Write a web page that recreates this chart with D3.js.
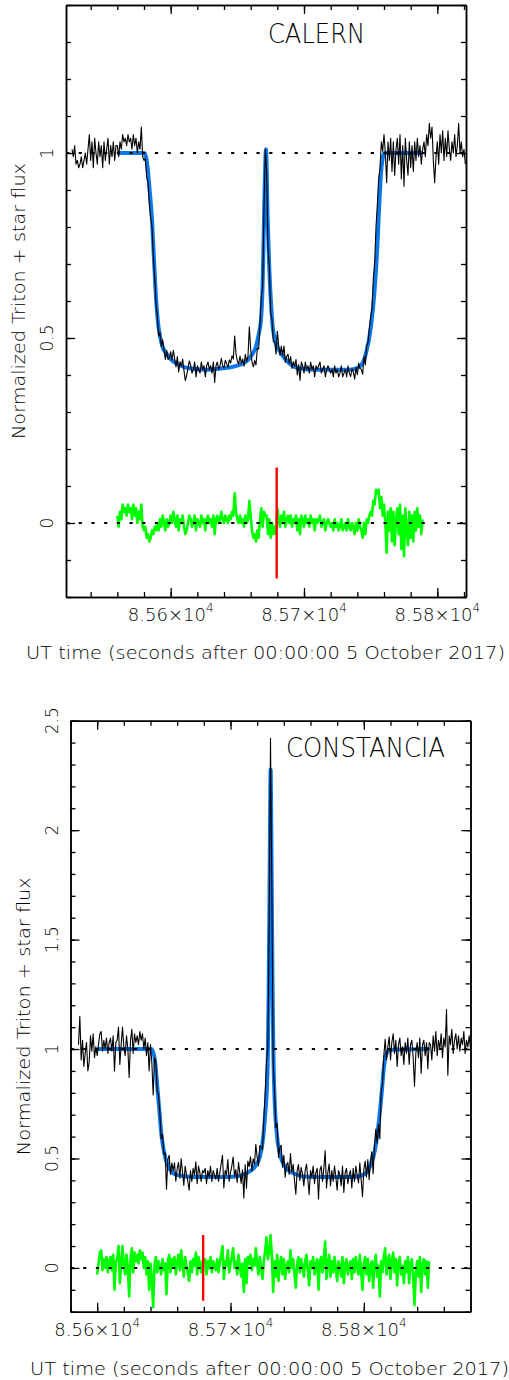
<!DOCTYPE html>
<html><head><meta charset="utf-8">
<script src="https://cdn.jsdelivr.net/npm/d3@7/dist/d3.min.js"></script>
<style>
body{margin:0;background:#fff}
svg{display:block}
text{font-family:"DejaVu Sans",sans-serif;font-weight:200;fill:#000}
</style>
</head><body><div id="chart"></div>
<script>
// ---------------- DATA ----------------
const xLabelValues = [85600, 85700, 85800];
const xLabelMantissa = ["8.56", "8.57", "8.58"];
const xLabelExponent = "4";
const xTitle = "UT time (seconds after 00:00:00 5 October 2017)";
const yTitle = "Normalized Triton + star flux";

// CALERN
const calernName = "CALERN";
const calernYLabels = [0, 0.5, 1];
const calernDataStart = 85526, calernDataStep = 1;
const calernFlux = [
1.01,0.99,1.02,0.97,0.98,0.96,0.97,0.99,0.96,0.98,1.00,0.97,1.01,1.05,0.98,1.03,0.96,1.04,1.00,0.97,1.03,0.99,1.02,0.96,1.03,0.98,1.01,1.04,0.97,1.02,0.99,1.03,0.98,1.02,
1.02,0.99,1.03,1.01,1.05,1.03,1.04,1.02,1.05,1.03,
1.04,1.01,1.05,1.02,1.04,1.00,1.03,1.01,1.07,0.99,
0.98,0.985,0.935,0.92,0.86,0.825,0.80,0.72,0.665,0.59,
0.56,0.505,0.515,0.478,0.495,0.468,0.442,0.467,0.442,0.447,
0.463,0.44,0.467,0.444,0.422,0.45,0.408,0.436,0.424,0.443,
0.411,0.385,0.399,0.418,0.438,0.426,0.405,0.415,0.435,0.395,
0.425,0.415,0.405,0.435,0.415,0.425,0.395,0.425,0.435,0.415,
0.425,0.405,0.435,0.38,0.425,0.435,0.415,0.425,0.445,0.425,
0.419,0.44,0.43,0.421,0.441,0.432,0.452,0.443,
0.505,0.457,0.438,0.43,0.451,0.432,0.443,0.424,0.456,0.437,
0.451,0.53,0.47,0.435,0.422,0.439,0.427,0.472,0.47,0.54,0.61,0.64,
0.85,1.01,0.95,0.74,0.694,0.57,0.55,0.49,0.49,0.456,
0.518,0.48,0.453,0.478,0.453,0.478,0.434,0.45,0.456,0.432,
0.45,0.418,0.436,0.424,0.442,0.40,0.428,0.385,0.435,0.425,
0.405,0.435,0.415,0.425,0.405,0.435,0.415,0.425,0.395,0.425,
0.415,0.425,0.435,0.405,0.415,0.425,0.395,0.415,0.425,0.415,
0.405,0.415,0.395,0.425,0.405,0.415,0.395,0.405,0.425,0.395,
0.405,0.415,0.395,0.425,0.405,0.396,0.417,0.408,0.389,0.42,
0.401,0.432,0.418,0.415,0.402,0.45,0.427,0.478,0.487,0.527,
0.557,0.58,0.66,0.705,0.80,0.86,0.93,0.96,1.03,1.005,
1.05,1.0,0.92,1.03,0.98,1.04,0.95,1.03,0.94,1.01,
1.04,0.97,1.05,0.93,1.02,0.91,1.04,0.98,0.94,1.03,
0.96,1.02,0.95,1.03,0.98,1.04,0.99,1.02,0.97,1.01,
1.03,0.99,1.05,1.02,1.08,1.04,1.07,0.98,0.92,0.99,
1.03,0.97,1.05,1.00,1.06,0.98,1.04,0.99,1.06,1.01,
0.98,1.03,1.00,1.05,0.99,1.02,1.08,1.00,1.03,0.99,
1.01,0.97
];
const calernResidStart = 85560, calernResidStep = 1;
const calernResid = [
0.02,-0.01,0.03,0.01,0.05,0.03,0.04,0.02,0.05,0.03,
0.04,0.01,0.05,0.02,0.04,0.00,0.03,0.01,0.05,-0.01,
-0.02,-0.01,-0.04,-0.03,-0.05,-0.04,-0.02,-0.03,-0.01,-0.02,
0.00,-0.02,0.01,-0.01,0.02,0.00,-0.02,0.01,-0.01,0.00,
0.02,0.00,0.03,0.01,-0.01,0.02,-0.02,0.01,0.00,0.02,
-0.01,-0.03,-0.02,0.00,0.02,0.01,-0.01,0.00,0.02,-0.02,
0.01,0.00,-0.01,0.02,0.00,0.01,-0.02,0.01,0.02,0.00,
0.01,-0.01,0.02,-0.03,0.01,0.02,0.00,0.01,0.03,0.01,
0.00,0.02,0.01,0.00,0.02,0.01,0.03,0.02,
0.08,0.03,0.01,0.00,0.02,0.00,0.01,-0.01,0.02,0.00,
0.01,0.06,0.02,-0.02,-0.04,-0.03,-0.05,-0.02,-0.04,0.01,0.04,-0.01,
0.03,0.02,0.02,-0.03,0.01,-0.04,0.00,-0.03,-0.01,-0.03,
0.04,0.01,-0.01,0.02,0.00,0.03,-0.01,0.01,0.02,0.00,
0.02,-0.01,0.01,0.00,0.02,-0.02,0.01,-0.03,0.02,0.01,
-0.01,0.02,0.00,0.01,-0.01,0.02,0.00,0.01,-0.02,0.01,
0.00,0.01,0.02,-0.01,0.00,0.01,-0.02,0.00,0.01,0.00,
-0.01,0.00,-0.02,0.01,-0.01,0.00,-0.02,-0.01,0.01,-0.02,
-0.01,0.00,-0.02,0.01,-0.01,-0.02,0.00,-0.01,-0.03,0.00,
-0.02,0.01,-0.01,-0.02,-0.04,0.00,-0.03,0.01,0.00,0.02,
0.03,0.02,0.06,0.05,0.09,0.08,0.09,0.04,0.07,0.02,
0.05,0.00,-0.08,0.03,-0.02,0.04,-0.05,0.03,-0.06,0.01,
0.04,-0.03,0.05,-0.07,0.02,-0.09,0.04,-0.02,-0.06,0.03,
-0.04,0.02,-0.05,0.03,-0.02,0.04,-0.01,0.02,-0.03,0.01
];
const calernModelTime = [85560,85580,85581.5,85583,85584,85586,85587.25,85588.5,85590.25,85592.25,85594,85596.5,85600,85604,85609,85614,85626.5,85639,85646.5,85656.5,85661,85664,85666,85667.75,85669,85669.5,85670.5,85671.5,85672.75,85674,85675.25,85676.5,85679,85682.75,85689,85696.5,85709,85734,85741.5,85746.5,85750.25,85752.75,85754.75,85756.5,85757.75,85759,85760.25,85789];
const calernModelFlux = [1.0,1.0,0.99,0.95,0.91,0.82,0.73,0.64,0.55,0.50,0.475,0.46,0.443,0.432,0.423,0.418,0.414,0.418,0.422,0.436,0.455,0.477,0.51,0.549,0.65,0.729,0.909,1.01,0.82,0.684,0.594,0.531,0.486,0.459,0.432,0.418,0.414,0.414,0.422,0.459,0.531,0.621,0.729,0.864,0.945,0.985,1.0,1.0];
const calernRefTime = 85679.5;
const calernRefHalf = 0.15;

// CONSTANCIA
const constanciaName = "CONSTANCIA";
const constanciaYLabels = [0, 0.5, 1, 1.5, 2, 2.5];
const constanciaDataStart = 85586, constanciaDataStep = 1;
const constanciaFlux = [
1.02,1.15,0.95,1.04,0.92,0.98,1.03,0.90,0.94,1.06,0.99,1.07,0.96,1.01,
0.97,1.02,1.07,1.08,0.99,1.04,1.00,1.05,0.98,1.03,
1.05,0.99,1.06,0.90,1.03,1.04,1.10,0.93,1.02,1.10,
1.01,0.97,1.06,1.00,0.87,1.04,1.09,0.98,1.07,1.03,
1.06,1.02,1.08,1.04,1.07,1.00,1.05,0.97,1.03,0.90,
1.02,0.94,0.79,0.96,0.94,0.81,0.79,0.71,0.59,0.61,
0.52,0.525,0.36,0.495,0.515,0.427,0.48,0.444,0.48,0.396,
0.454,0.482,0.41,0.499,0.438,0.377,0.465,0.425,0.395,0.355,
0.445,0.395,0.455,0.425,0.485,0.385,0.465,0.435,0.395,0.445,
0.435,0.455,0.385,0.445,0.415,0.465,0.395,0.445,0.425,0.405,
0.455,0.395,0.435,0.475,0.515,0.365,0.445,0.425,0.495,0.395,
0.435,0.466,0.507,0.418,0.449,0.39,0.482,0.434,0.386,0.448,
0.32,0.472,0.364,0.488,0.463,0.508,0.443,0.498,0.473,0.565,
0.505,0.467,0.559,0.55,0.54,0.68,0.80,0.94,1.01,1.57,
2.42,1.74,0.94,0.81,0.64,0.66,0.505,0.55,0.56,0.46,
0.515,0.415,0.468,0.482,0.427,0.522,0.438,0.473,0.40,0.337,
0.444,0.472,0.40,0.459,0.428,0.375,0.445,0.475,0.405,0.335,
0.445,0.415,0.465,0.385,0.435,0.455,0.315,0.445,0.465,0.395,
0.455,0.535,0.365,0.435,0.475,0.375,0.445,0.395,0.465,0.415,
0.355,0.445,0.425,0.375,0.465,0.345,0.435,0.455,0.385,0.425,
0.445,0.365,0.455,0.395,0.465,0.425,0.388,0.48,0.402,0.325,
0.45,0.488,0.416,0.495,0.403,0.49,0.53,0.43,0.56,0.635,
0.57,0.656,0.59,0.81,0.84,0.97,1.045,0.95,1.01,1.056,
0.95,1.03,1.07,0.98,1.04,0.92,1.02,1.05,0.97,1.01,
0.93,1.03,0.98,1.05,0.93,1.02,1.04,0.96,0.83,0.98,
1.03,0.96,1.05,0.89,1.02,1.04,0.97,1.03,0.91,1.03,
1.02,0.95,1.06,0.99,1.08,0.97,1.04,1.00,1.07,0.96,
1.05,1.01,1.18,0.88,1.06,1.02,1.09,0.98,1.04,1.07,
1.00,1.06,0.99,1.05,1.02,1.08,0.98,1.04,1.01,1.06,
1.00
];
const constanciaResidStart = 85600, constanciaResidStep = 1;
const constanciaResid = [
-0.03,0.02,0.07,0.08,-0.01,0.04,0.00,0.05,-0.02,0.03,
0.05,-0.01,0.06,-0.10,0.03,0.04,0.10,-0.07,0.02,0.10,
0.01,-0.03,0.06,0.00,-0.13,0.04,0.09,-0.02,0.07,0.03,
0.06,0.02,0.08,0.04,0.07,0.00,0.05,-0.03,0.03,-0.10,
0.02,-0.05,-0.18,0.01,0.05,-0.02,0.03,0.01,-0.03,0.04,
-0.01,0.02,-0.12,0.03,0.06,-0.02,0.04,0.01,0.05,-0.03,
0.03,0.06,-0.01,0.08,0.02,-0.04,0.05,0.01,-0.02,-0.06,
0.03,-0.02,0.04,0.01,0.07,-0.03,0.05,0.02,-0.02,0.03,
0.02,0.04,-0.03,0.03,0.00,0.05,-0.02,0.03,0.01,-0.01,
0.04,-0.02,0.02,0.06,0.10,-0.05,0.03,0.01,0.08,-0.02,
0.02,0.05,0.09,0.00,0.03,-0.03,0.06,0.01,-0.04,0.02,
-0.11,0.04,-0.07,0.05,0.02,0.06,-0.01,0.04,0.01,0.09,
0.02,-0.03,0.05,0.00,-0.05,0.03,0.08,0.14,0.04,0.07,
0.15,0.06,-0.11,0.03,-0.04,0.06,-0.06,0.02,0.05,-0.03,
0.04,-0.05,0.01,0.03,-0.02,0.08,0.00,0.04,-0.03,-0.09,
0.02,0.05,-0.02,0.04,0.01,-0.04,0.03,0.06,-0.01,-0.08,
0.03,0.00,0.05,-0.03,0.02,0.04,-0.10,0.03,0.05,-0.02,
0.04,0.12,-0.05,0.02,0.06,-0.04,0.03,-0.02,0.05,0.00,
-0.06,0.03,0.01,-0.04,0.05,-0.07,0.02,0.04,-0.03,0.01,
0.03,-0.05,0.04,-0.02,0.05,0.01,-0.03,0.06,-0.02,-0.10,
0.02,0.05,-0.03,0.04,-0.06,0.01,0.03,-0.09,0.02,0.06,
-0.04,0.01,-0.13,0.03,-0.02,0.05,0.09,-0.03,0.02,0.06,
-0.05,0.03,0.07,-0.02,0.04,-0.08,0.02,0.05,-0.03,0.01,
-0.07,0.03,-0.02,0.05,-0.07,0.02,0.04,-0.04,-0.17,-0.02,
0.03,-0.04,0.05,-0.11,0.02,0.04,-0.03,0.03,-0.09,0.03
];
const constanciaModelTime = [85600,85640.8,85643.35,85645.1,85646.6,85648.35,85650.35,85653.35,85659.6,85672.1,85692.1,85704.6,85712.1,85718.35,85722.1,85724.6,85726,85727.1,85728,85728.6,85729.1,85729.6,85730.1,85730.6,85731.1,85731.6,85732.2,85733.2,85734.6,85737.1,85740.85,85747.1,85754.6,85767.1,85792.1,85799.6,85804.6,85808.35,85810.85,85813.35,85815.1,85817.1,85819.6,85849];
const constanciaModelFlux = [1.0,1.0,0.949,0.828,0.722,0.60,0.524,0.463,0.425,0.415,0.415,0.418,0.433,0.463,0.509,0.60,0.70,0.797,0.97,1.25,1.6,2.0,2.276,2.0,1.6,1.25,0.97,0.75,0.62,0.52,0.463,0.433,0.418,0.415,0.415,0.425,0.463,0.539,0.646,0.797,0.919,0.980,0.996,1.0];
const constanciaRefTime = 85679.5;
const constanciaRefHalf = 0.15;

// ---------------- LAYOUT ----------------
const W = 509, H = 1380;
const svg = d3.select("#chart").append("svg").attr("width", W).attr("height", H);

const panels = [
  {name: calernName, xDomain: [85521.5, 85821.5], yDomain: [-0.2, 1.4],
   box: {l: 66, r: 466, t: 5, b: 597}, yLabels: calernYLabels,
   flux: calernFlux, fStart: calernDataStart, fStep: calernDataStep,
   resid: calernResid, rStart: calernResidStart, rStep: calernResidStep,
   mT: calernModelTime, mF: calernModelFlux, ref: calernRefTime, refHalf: calernRefHalf,
   title: {x: 268, y: 43, len: 97}, yLabX: 53, yTitleX: 25, yTitleLen: 276,
   xLabY: 621, xTitle: {x: 26, y: 659}},
  {name: constanciaName, xDomain: [85580, 85880], yDomain: [-0.2, 2.5],
   box: {l: 70.5, r: 470.5, t: 720.7, b: 1311.7}, yLabels: constanciaYLabels,
   flux: constanciaFlux, fStart: constanciaDataStart, fStep: constanciaDataStep,
   resid: constanciaResid, rStart: constanciaResidStart, rStep: constanciaResidStep,
   mT: constanciaModelTime, mF: constanciaModelFlux, ref: constanciaRefTime, refHalf: constanciaRefHalf,
   title: {x: 286, y: 757, len: 159}, yLabX: 58, yTitleX: 30, yTitleLen: 278,
   xLabY: 1336, xTitle: {x: 30, y: 1375}}
];

function drawPanel(p) {
  const B = p.box;
  const x = d3.scaleLinear().domain(p.xDomain).range([B.l, B.r]);
  const y = d3.scaleLinear().domain(p.yDomain).range([B.b, B.t]);
  const g = svg.append("g");

  const clipId = "clip" + p.name;
  svg.append("clipPath").attr("id", clipId).append("rect")
    .attr("x", B.l).attr("y", B.t).attr("width", B.r - B.l).attr("height", B.b - B.t);
  const plot = g.append("g").attr("clip-path", `url(#${clipId})`);

  // model (blue)
  const model = p.mT.map((t, i) => [t, p.mF[i]]);
  plot.append("path").datum(model)
    .attr("fill", "none").attr("stroke", "#0b78ea").attr("stroke-width", 4)
    .attr("stroke-linejoin", "round")
    .attr("d", d3.line().x(d => x(d[0])).y(d => y(d[1])).curve(d3.curveMonotoneX));

  // observed data (black)
  const obs = p.flux.map((v, i) => [p.fStart + i * p.fStep, v]);
  plot.append("path").datum(obs)
    .attr("fill", "none").attr("stroke", "#000").attr("stroke-width", 1.1)
    .attr("stroke-linejoin", "round")
    .attr("d", d3.line().x(d => x(d[0])).y(d => y(d[1])));

  // residuals (green)
  const res = p.resid.map((v, i) => [p.rStart + i * p.rStep, v]);
  plot.append("path").datum(res)
    .attr("fill", "none").attr("stroke", "#00ff00").attr("stroke-width", 2.6)
    .attr("stroke-linejoin", "round")
    .attr("d", d3.line().x(d => x(d[0])).y(d => y(d[1])));

  // dotted reference levels
  [0, 1].forEach(v => {
    plot.append("line").attr("x1", B.l).attr("x2", B.r)
      .attr("y1", y(v)).attr("y2", y(v))
      .attr("stroke", "#000").attr("stroke-width", 2)
      .attr("stroke-dasharray", "3.2 9.5");
  });

  // red reference line
  plot.append("line").attr("x1", x(p.ref)).attr("x2", x(p.ref))
    .attr("y1", y(p.refHalf)).attr("y2", y(-p.refHalf))
    .attr("stroke", "#ff0000").attr("stroke-width", 2.4);

  // axes (ticks pointing inward)
  const xMinor = d3.range(Math.ceil(p.xDomain[0] / 20) * 20, p.xDomain[1] + 0.01, 20);
  const yMinor = d3.range(Math.ceil(p.yDomain[0] * 10 - 1e-6), Math.floor(p.yDomain[1] * 10 + 1e-6) + 1).map(k => k / 10);
  const yMajor = yMinor.filter(v => Math.abs(v * 2 - Math.round(v * 2)) < 1e-6);
  const xMajor = xLabelValues.filter(v => v >= p.xDomain[0] && v <= p.xDomain[1]);

  function styleAxis(sel) {
    sel.attr("color", "#000");
    sel.selectAll("path.domain").attr("stroke-width", 1.5);
    sel.selectAll(".tick line").attr("stroke-width", 1.3);
    sel.selectAll(".tick text").remove();
  }
  const defs = [
    [d3.axisBottom(x), `translate(0,${B.b})`, xMinor, xMajor],
    [d3.axisTop(x), `translate(0,${B.t})`, xMinor, xMajor],
    [d3.axisLeft(y), `translate(${B.l},0)`, yMinor, yMajor],
    [d3.axisRight(y), `translate(${B.r},0)`, yMinor, yMajor]
  ];
  defs.forEach(([ax, tr, minor, major]) => {
    g.append("g").attr("transform", tr)
      .call(ax.tickValues(minor).tickSize(-5).tickSizeOuter(0).tickFormat(""))
      .call(styleAxis);
    g.append("g").attr("transform", tr)
      .call(ax.tickValues(major).tickSize(-9).tickSizeOuter(0).tickFormat(""))
      .call(styleAxis);
  });

  // x tick labels with exponent
  xMajor.forEach(v => {
    const i = xLabelValues.indexOf(v);
    const t = g.append("text").attr("x", x(v)).attr("y", p.xLabY)
      .attr("text-anchor", "middle").attr("font-size", 18);
    t.append("tspan").text(xLabelMantissa[i] + "\u00d710");
    t.append("tspan").attr("dy", -9).attr("font-size", 12).text(xLabelExponent);
  });

  // y tick labels (rotated)
  p.yLabels.forEach(v => {
    g.append("text").attr("x", p.yLabX).attr("y", y(v))
      .attr("transform", `rotate(-90,${p.yLabX},${y(v)})`)
      .attr("text-anchor", "middle").attr("font-size", 17).text(String(v));
  });

  // titles
  g.append("text").attr("x", p.title.x).attr("y", p.title.y)
    .attr("font-size", 26).attr("textLength", p.title.len).attr("lengthAdjust", "spacingAndGlyphs")
    .text(p.name);

  const yc = (B.t + B.b) / 2;
  g.append("text").attr("x", p.yTitleX).attr("y", yc)
    .attr("transform", `rotate(-90,${p.yTitleX},${yc})`)
    .attr("text-anchor", "middle").attr("font-size", 17)
    .attr("textLength", p.yTitleLen).attr("lengthAdjust", "spacingAndGlyphs")
    .text(yTitle);

  g.append("text").attr("x", p.xTitle.x).attr("y", p.xTitle.y)
    .attr("font-size", 18).attr("textLength", 479).attr("lengthAdjust", "spacingAndGlyphs")
    .text(xTitle);
}

panels.forEach(drawPanel);
</script>
</body></html>
